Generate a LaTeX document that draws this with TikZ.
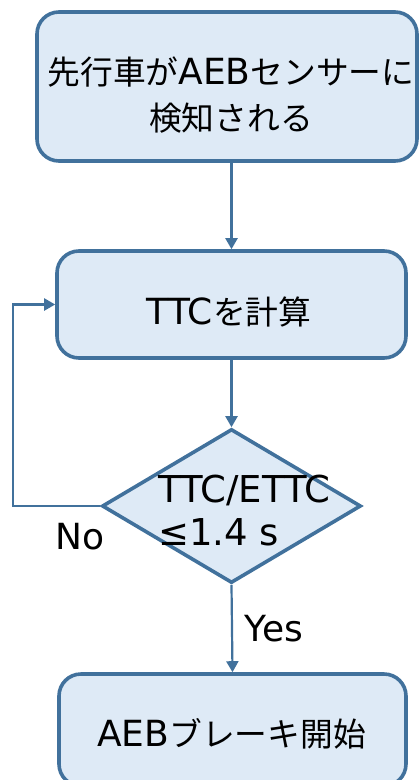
\documentclass[tikz,border=0pt]{standalone}
\usepackage{fontspec}
\setmainfont{DejaVu Sans}
\newfontfamily\jp{Noto Sans CJK JP}[Scale=0.91]
\usetikzlibrary{shapes.geometric,arrows.meta}
\definecolor{boxfill}{HTML}{DEEAF6}
\definecolor{boxline}{HTML}{41719C}
\begin{document}
\begin{tikzpicture}[x=1pt,y=-1pt,
  procbox/.style={draw=boxline, line width=3.6pt, fill=boxfill, rounded corners=22pt, inner sep=0pt},
  decbox/.style={diamond, draw=boxline, line width=3.6pt, fill=boxfill, inner sep=0pt},
  txt/.style={font=\fontsize{36}{46}\selectfont, inner sep=0pt, align=center, text=black},
  dtxt/.style={font=\fontsize{37}{43}\selectfont, inner sep=0pt, anchor=base west, text=black},
  conn/.style={draw=boxline, line width=2.2pt, -{Triangle[width=12pt,length=11pt]}}]
\useasboundingbox (0,0) rectangle (419,780);
\node[procbox, minimum width=380pt, minimum height=149pt] (b1) at (227,86.5) {};
\node[procbox, minimum width=349pt, minimum height=107pt] (b2) at (231.5,304.5) {};
\node[decbox, minimum width=259pt, minimum height=154pt] (dia) at (231.5,506) {};
\node[procbox, minimum width=347pt, minimum height=112pt] (b3) at (232.5,730) {};
\node[txt] (t1) at (231,95) {{\jp 先行車が}AEB{\jp センサーに}\\{\jp 検知される}};
\node[txt] (t2) at (229,312) {TTC{\jp を計算}};
\node[txt] (t3) at (231.5,734) {AEB{\jp ブレーキ開始}};
\node[dtxt] (d1) at (158,502) {TTC/ETTC};
\node[dtxt] (d2) at (158,545) {≤1.4 s};
\node[txt] (no) at (80,537) {No};
\node[txt] (yes) at (274,629) {Yes};
\coordinate (lp) at (13,506);
\draw[conn] (b2.north |- b1.south) -- (b2.north);
\draw[conn] (b2.south) -- (dia.north);
\draw[conn] (dia.west) -- (lp) |- (b2.west);
\draw[conn] (dia.south) -- (b3.north);
\end{tikzpicture}
\end{document}
